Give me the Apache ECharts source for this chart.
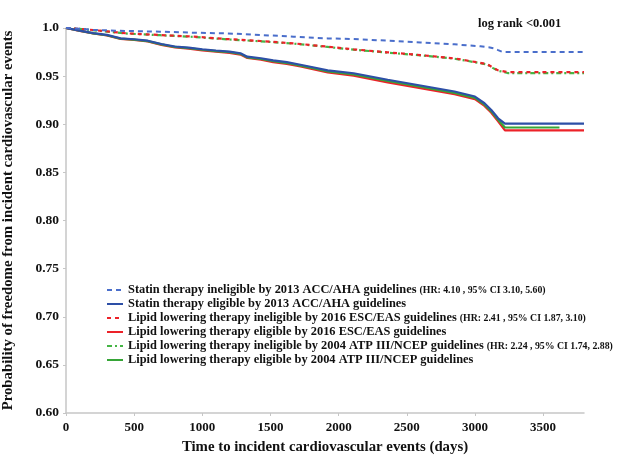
<!DOCTYPE html>
<html>
<head>
<meta charset="utf-8">
<script src="https://cdn.jsdelivr.net/npm/echarts@6/dist/echarts.min.js"></script>
<style>html,body{margin:0;padding:0;background:#fff}#c{width:620px;height:456px}</style>
</head>
<body>
<div id="c"></div>
<script>
// ---- data ----
const xTickValues = [0, 500, 1000, 1500, 2000, 2500, 3000, 3500];
const yTickValues = [0.60, 0.65, 0.70, 0.75, 0.80, 0.85, 0.90, 0.95, 1.0];
const yTickLabels = ['0.60', '0.65', '0.70', '0.75', '0.80', '0.85', '0.90', '0.95', '1.0'];

const seriesNames = [
  'Statin therapy ineligible by 2013 ACC/AHA guidelines',
  'Statin therapy eligible by 2013 ACC/AHA guidelines',
  'Lipid lowering therapy ineligible by 2016 ESC/EAS guidelines',
  'Lipid lowering therapy eligible by 2016 ESC/EAS guidelines',
  'Lipid lowering therapy ineligible by 2004 ATP III/NCEP guidelines',
  'Lipid lowering therapy eligible by 2004 ATP III/NCEP guidelines'
];
const hrTexts = [
  '(HR: 4.10 , 95% CI 3.10, 5.60)',
  '',
  '(HR: 2.41 , 95% CI 1.87, 3.10)',
  '',
  '(HR: 2.24 , 95% CI 1.74, 2.88)',
  ''
];

// dashed (ineligible) curves
const accInelDays = [0, 100, 200, 450, 690, 940, 1180, 1430, 1670, 1920, 2110, 2360, 2600, 2850, 3040, 3100, 3140, 3170, 3205, 3800];
const accInelSurv = [1.0, 0.9993, 0.998, 0.9969, 0.9962, 0.9951, 0.9944, 0.9927, 0.991, 0.9892, 0.9885, 0.9868, 0.985, 0.983, 0.981, 0.980, 0.9788, 0.977, 0.9750, 0.9750];

const escInelDays = [0, 100, 200, 450, 690, 940, 1180, 1430, 1670, 1920, 2110, 2360, 2600, 2850, 2950, 3090, 3130, 3170, 3240, 3800];
const escInelSurv = [1.0, 0.999, 0.9979, 0.9944, 0.9927, 0.991, 0.9885, 0.9865, 0.984, 0.9806, 0.9778, 0.9747, 0.9719, 0.9684, 0.966, 0.9625, 0.959, 0.956, 0.9542, 0.9542];

const atpInelDays = [0, 100, 200, 450, 690, 940, 1180, 1430, 1670, 1920, 2110, 2360, 2600, 2850, 2950, 3090, 3130, 3170, 3240, 3800];
const atpInelSurv = [1.0, 0.999, 0.9977, 0.9942, 0.9925, 0.9907, 0.9882, 0.9862, 0.9837, 0.9803, 0.9775, 0.9744, 0.9716, 0.9681, 0.9657, 0.9621, 0.9586, 0.9556, 0.9532, 0.9532];

// solid (eligible) curves
const eligDays = [0, 100, 200, 300, 400, 500, 600, 700, 800, 900, 1000, 1100, 1200, 1280, 1330, 1430, 1520, 1620, 1720, 1820, 1920, 2110, 2360, 2600, 2850, 3000, 3070, 3120, 3170, 3220, 3800];
const accEligSurv = [1.0, 0.9972, 0.9946, 0.9928, 0.9893, 0.9883, 0.9868, 0.9834, 0.9808, 0.9796, 0.9779, 0.9766, 0.9755, 0.9738, 0.9702, 0.9686, 0.9663, 0.9645, 0.9618, 0.9590, 0.9560, 0.9530, 0.9462, 0.9403, 0.9340, 0.9288, 0.9218, 0.9148, 0.9062, 0.9007, 0.9007];
const escEligSurv = [1.0, 0.9970, 0.9943, 0.9922, 0.9886, 0.9876, 0.9860, 0.9825, 0.9798, 0.9786, 0.9768, 0.9754, 0.9742, 0.9724, 0.9688, 0.9670, 0.9646, 0.9627, 0.9600, 0.9570, 0.9538, 0.9505, 0.9435, 0.9376, 0.9312, 0.9260, 0.9190, 0.9120, 0.9030, 0.8937, 0.8937];
const atpEligDays = [0, 100, 200, 300, 400, 500, 600, 700, 800, 900, 1000, 1100, 1200, 1280, 1330, 1430, 1520, 1620, 1720, 1820, 1920, 2110, 2360, 2600, 2850, 3000, 3070, 3120, 3170, 3220, 3620];
const atpEligSurv = [1.0, 0.9971, 0.9945, 0.9925, 0.9890, 0.9880, 0.9864, 0.9830, 0.9803, 0.9791, 0.9774, 0.9760, 0.9749, 0.9731, 0.9695, 0.9678, 0.9655, 0.9636, 0.9609, 0.9580, 0.9549, 0.9518, 0.9449, 0.9390, 0.9326, 0.9274, 0.9204, 0.9134, 0.9046, 0.8966, 0.8966];

// ---- chart ----
const FONT = '"Liberation Serif", "DejaVu Serif", serif';
const BLUE = '#2d4fa6', BLUE_D = '#4a6ecb', RED = '#ec2229', GREEN = '#36a537', GREEN_D = '#45b545';
const zip = (a, b) => a.map((d, i) => [d, b[i]]);

function mk(idx, days, surv, color, type, width, z) {
  return {
    name: seriesNames[idx], type: 'line', data: zip(days, surv),
    symbol: 'none', z: z,
    lineStyle: { color: color, width: width, type: type },
    itemStyle: { color: color }
  };
}

const chart = echarts.init(document.getElementById('c'), null, { renderer: 'canvas' });
const hrMap = {};
seriesNames.forEach((n, i) => { hrMap[n] = hrTexts[i]; });

chart.setOption({
  animation: false,
  backgroundColor: '#fff',
  title: {
    text: 'log rank <0.001', left: 473, top: 12,
    textStyle: { fontFamily: FONT, fontSize: 12.5, fontWeight: 'bold', color: '#111' }
  },
  grid: { left: 66, right: 36, top: 28, bottom: 43, outerBoundsMode: 'none', containLabel: false },
  legend: {
    orient: 'vertical', left: 101, top: 278,
    itemWidth: 16, itemHeight: 10, itemGap: 0,
    itemStyle: { opacity: 0 },
    data: seriesNames,
    formatter: n => hrMap[n] ? '{n|' + n + '} {h|' + hrMap[n] + '}' : '{n|' + n + '}',
    textStyle: {
      fontFamily: FONT, fontSize: 12.4, fontWeight: 'bold', color: '#111', lineHeight: 14,
      rich: {
        n: { fontFamily: FONT, fontSize: 12.4, fontWeight: 'bold', color: '#111', lineHeight: 14 },
        h: { fontFamily: FONT, fontSize: 9.8, fontWeight: 'bold', color: '#111', lineHeight: 14 }
      }
    }
  },
  xAxis: {
    type: 'value', min: 0, max: 3800, interval: 500,
    name: 'Time to incident cardiovascular events (days)',
    nameLocation: 'middle', nameGap: 27,
    nameTextStyle: { fontFamily: FONT, fontSize: 14.8, fontWeight: 'bold', color: '#111' },
    axisLine: { lineStyle: { color: '#c6c6c6', width: 1.5 } },
    axisTick: { show: true, length: 3, customValues: xTickValues, lineStyle: { color: '#c6c6c6' } },
    axisLabel: { customValues: xTickValues, margin: 8, fontFamily: FONT, fontSize: 13, fontWeight: 'bold', color: '#111',
      formatter: v => String(v) },
    splitLine: { show: false }
  },
  yAxis: {
    type: 'value', min: 0.6, max: 1.0, interval: 0.05,
    name: 'Probability of freedome from incident cardiovascular events',
    nameLocation: 'middle', nameGap: 50, nameRotate: 90,
    nameTextStyle: { fontFamily: FONT, fontSize: 14.8, fontWeight: 'bold', color: '#111' },
    axisLine: { show: true, lineStyle: { color: '#c6c6c6', width: 1.5 } },
    axisTick: { show: true, length: 3, customValues: yTickValues, lineStyle: { color: '#c6c6c6' } },
    axisLabel: {
      customValues: yTickValues, margin: 7, fontFamily: FONT, fontSize: 13.5, fontWeight: 'bold', color: '#111',
      formatter: v => { const i = yTickValues.findIndex(t => Math.abs(t - v) < 1e-6); return i >= 0 ? yTickLabels[i] : ''; }
    },
    splitLine: { show: false }
  },
  series: [
    mk(0, accInelDays, accInelSurv, BLUE_D, [5, 4], 2, 6),
    mk(1, eligDays, accEligSurv, BLUE, 'solid', 2.2, 5),
    mk(2, escInelDays, escInelSurv, RED, [4, 4], 2.2, 4),
    mk(3, eligDays, escEligSurv, RED, 'solid', 2.2, 2),
    mk(4, atpInelDays, atpInelSurv, GREEN_D, [5, 3, 2, 3], 2.2, 3),
    mk(5, atpEligDays, atpEligSurv, GREEN, 'solid', 2.2, 3)
  ]
});
</script>
</body>
</html>
